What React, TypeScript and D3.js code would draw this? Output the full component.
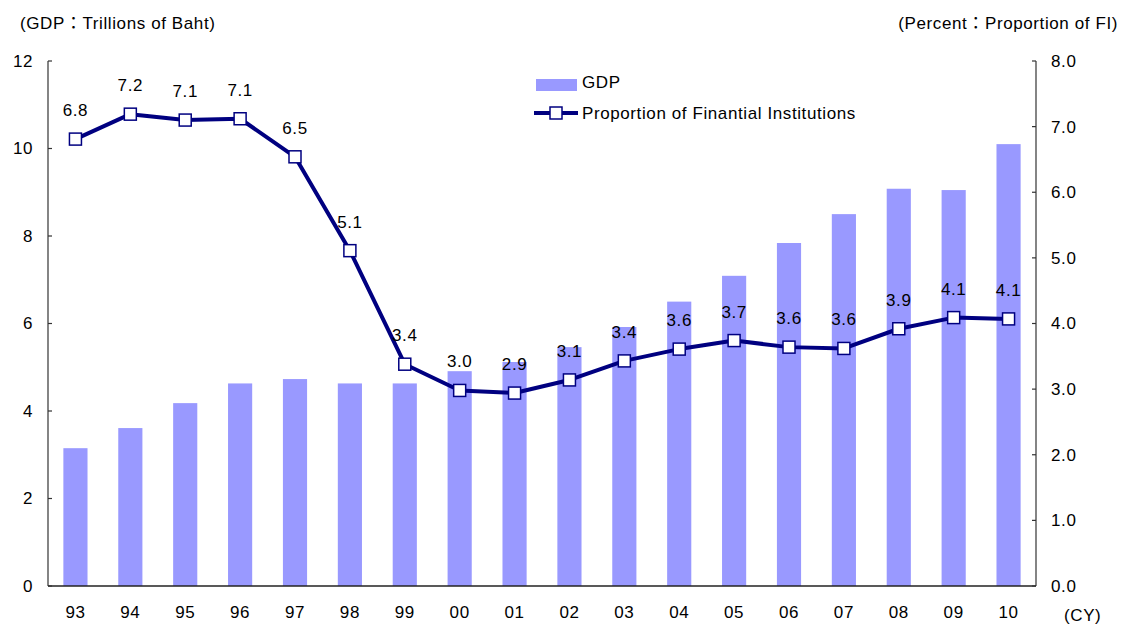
import * as d3 from "d3";

const years = ["93", "94", "95", "96", "97", "98", "99", "00", "01", "02", "03", "04", "05", "06", "07", "08", "09", "10"];
const gdp = [3.15, 3.61, 4.18, 4.63, 4.73, 4.63, 4.63, 4.91, 5.12, 5.46, 5.92, 6.5, 7.09, 7.84, 8.5, 9.08, 9.05, 10.1];
const fiShare = [6.81, 7.19, 7.1, 7.12, 6.54, 5.11, 3.38, 2.98, 2.94, 3.14, 3.43, 3.61, 3.74, 3.64, 3.62, 3.92, 4.09, 4.07];
const leftTicks = [0, 2, 4, 6, 8, 10, 12];
const rightTicks = [0, 1, 2, 3, 4, 5, 6, 7, 8];

const W = 1122;
const H = 626;
const margin = { top: 61, left: 48, bottom: 40, right: 86 };
const font = "'Liberation Sans', Arial, 'Noto Sans CJK JP', sans-serif";
const barColor = "#9999ff";
const lineColor = "#000080";
const fs = 17;
const ls = 0.6;

const App = () => {
  const x = d3
    .scaleBand()
    .domain(years)
    .range([margin.left, W - margin.right])
    .paddingInner(0.56)
    .paddingOuter(0.28);
  const yL = d3.scaleLinear().domain([0, 12]).range([H - margin.bottom, margin.top]);
  const yR = d3.scaleLinear().domain([0, 8]).range([H - margin.bottom, margin.top]);
  const cx = (d: string) => (x(d) ?? 0) + x.bandwidth() / 2;

  const line = d3
    .line<number>()
    .x((_, i) => cx(years[i]))
    .y((d) => yR(d));

  const x0 = margin.left;
  const x1 = W - margin.right;
  const yBottom = H - margin.bottom;

  return (
    <svg
      width={W}
      height={H}
      style={{ position: "absolute", left: 0, top: 0, fontFamily: font }}
    >
      <rect width={W} height={H} fill="#fff" />

      {/* bars */}
      {years.map((yr, i) => (
        <rect
          key={yr}
          x={x(yr)}
          y={yL(gdp[i])}
          width={x.bandwidth()}
          height={yBottom - yL(gdp[i])}
          fill={barColor}
        />
      ))}

      {/* axes */}
      <g stroke="#333" strokeWidth={1.2} fill="none">
        <line x1={x0} x2={x0} y1={margin.top} y2={yBottom} />
        <line x1={x1} x2={x1} y1={margin.top} y2={yBottom} />
        <line x1={x0} x2={x1} y1={yBottom} y2={yBottom} stroke="#222" strokeWidth={1.5} />
        {leftTicks.map((t) => (
          <line key={"lt" + t} x1={x0} x2={x0 + 4} y1={yL(t)} y2={yL(t)} />
        ))}
        {rightTicks.map((t) => (
          <line key={"rt" + t} x1={x1 - 4} x2={x1} y1={yR(t)} y2={yR(t)} />
        ))}
      </g>

      <g fontSize={fs} letterSpacing={ls} fill="#000">
        {leftTicks.map((t) => (
          <text key={"ll" + t} x={33} y={yL(t)} dy="0.35em" textAnchor="end">
            {t}
          </text>
        ))}
        {rightTicks.map((t) => (
          <text key={"rl" + t} x={1051} y={yR(t)} dy="0.35em">
            {t.toFixed(1)}
          </text>
        ))}
        {years.map((yr) => (
          <text key={"xl" + yr} x={cx(yr)} y={612} dy="0.35em" textAnchor="middle">
            {yr}
          </text>
        ))}
        <text x={1064} y={615} dy="0.35em">(CY)</text>
        <text x={20} y={23} dy="0.35em">(GDP：Trillions of Baht)</text>
        <text x={1118} y={23} dy="0.35em" textAnchor="end">(Percent：Proportion of FI)</text>
      </g>

      {/* line */}
      <path d={line(fiShare) ?? ""} fill="none" stroke={lineColor} strokeWidth={4} strokeLinejoin="round" />
      {fiShare.map((v, i) => (
        <rect
          key={"m" + i}
          x={cx(years[i]) - 6}
          y={yR(v) - 6}
          width={12}
          height={12}
          fill="#fff"
          stroke={lineColor}
          strokeWidth={1.5}
        />
      ))}
      <g fontSize={fs} letterSpacing={ls} fill="#000" textAnchor="middle">
        {fiShare.map((v, i) => (
          <text key={"v" + i} x={cx(years[i])} y={yR(v) - 29} dy="0.35em">
            {v.toFixed(1)}
          </text>
        ))}
      </g>

      {/* legend */}
      <g fontSize={fs} letterSpacing={ls}>
        <rect x={536} y={79} width={41} height={12} fill={barColor} />
        <text x={582} y={82} dy="0.35em">GDP</text>
        <line x1={534} x2={578} y1={113} y2={113} stroke={lineColor} strokeWidth={4} />
        <rect x={550} y={107} width={12} height={12} fill="#fff" stroke={lineColor} strokeWidth={1.5} />
        <text x={582} y={113} dy="0.35em">Proportion of Finantial Institutions</text>
      </g>
    </svg>
  );
};

export default App;
